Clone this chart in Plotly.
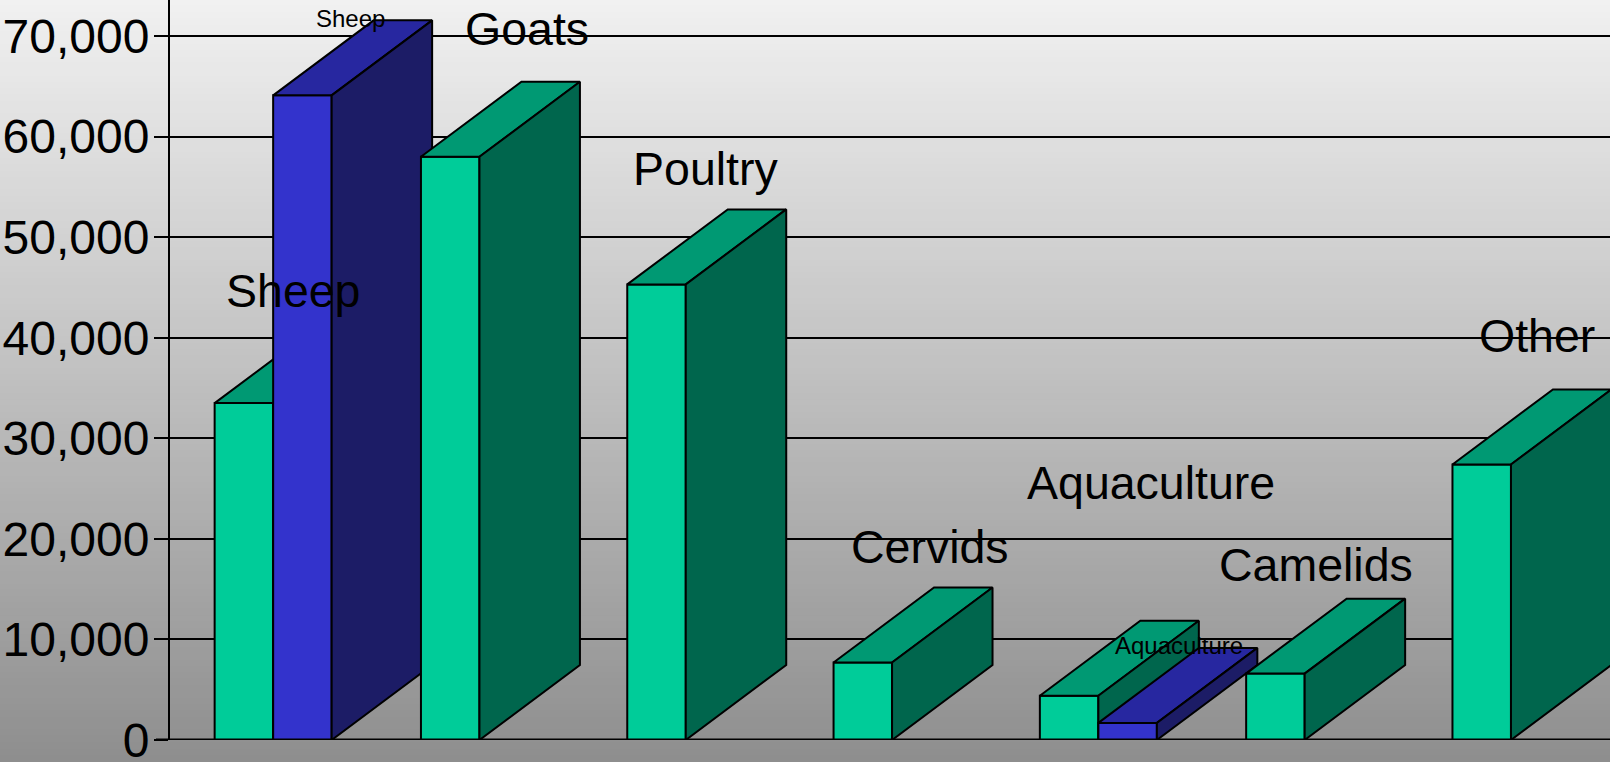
import plotly.graph_objects as go

# ---------------- data ----------------
categories = ["Sheep", "Goats", "Poultry", "Cervids", "Aquaculture", "Camelids", "Other"]
green_values = [33500, 58000, 45300, 7700, 4400, 6600, 27400]
blue_values = [64100, 0, 0, 0, 1700, 0, 0]
green_labels = ["Sheep", "Goats", "Poultry", "Cervids", "Aquaculture", "Camelids", "Other"]
blue_labels = ["Sheep", "", "", "", "Aquaculture", "", ""]
y_tick_values = [0, 10000, 20000, 30000, 40000, 50000, 60000, 70000]
y_tick_labels = ["0", "10,000", "20,000", "30,000", "40,000", "50,000", "60,000", "70,000"]

# ---------------- style / geometry ----------------
BAR_W = 0.2836          # bar width in category units
DEPTH_X = 0.487         # 3D depth offset (category units)
DEPTH_Y = 7457          # 3D depth offset (value units)
GREEN = dict(front="#00CC99", top="#009973", side="#00664D")
BLUE = dict(front="#3333CC", top="#2727A0", side="#1C1C66")
FONT = "Liberation Sans, Arial, sans-serif"
green_label_shift = [(-1, 37), (27, 53), (-1, 40), (17, 41), (32, 138), (-10, 34), (5, 53)]
blue_label_shift = [(-2, 2), (0, 0), (0, 0), (0, 0), (1, 2), (0, 0), (0, 0)]

fig = go.Figure()


def poly(xs, ys, color):
    fig.add_trace(go.Scatter(
        x=xs + [xs[0]], y=ys + [ys[0]], mode="lines", fill="toself",
        fillcolor=color, line=dict(color="black", width=2),
        hoverinfo="skip", showlegend=False))


def add_box(x0, v, colors):
    x1 = x0 + BAR_W
    poly([x0, x1, x1, x0], [0, 0, v, v], colors["front"])
    poly([x0, x1, x1 + DEPTH_X, x0 + DEPTH_X], [v, v, v + DEPTH_Y, v + DEPTH_Y], colors["top"])
    poly([x1, x1 + DEPTH_X, x1 + DEPTH_X, x1], [0, DEPTH_Y, v + DEPTH_Y, v], colors["side"])


annotations = []
for i, cat in enumerate(categories):
    gv = green_values[i]
    bv = blue_values[i]
    add_box(i - BAR_W, gv, GREEN)
    dxs, dys = green_label_shift[i]
    annotations.append(dict(
        x=i - BAR_W / 2 + DEPTH_X / 2, y=gv + DEPTH_Y, xref="x", yref="y",
        text=green_labels[i], showarrow=False, xshift=dxs, yshift=dys,
        font=dict(family=FONT, size=46.5, color="black")))
    if bv > 0:
        add_box(i, bv, BLUE)
        dxs, dys = blue_label_shift[i]
        annotations.append(dict(
            x=i + BAR_W / 2 + DEPTH_X / 2, y=bv + DEPTH_Y, xref="x", yref="y",
            text=blue_labels[i], showarrow=False, xshift=dxs, yshift=dys,
            font=dict(family=FONT, size=24, color="black")))

# gradient background built from thin strips
shapes = []
N = 120
W, H = 1610, 762
L, R, T, B = 170, 0, 0, 22
pw, ph = W - L - R, H - T - B
for k in range(N):
    ytop = k * H / N
    ybot = (k + 1) * H / N
    frac = (k + 0.5) / N
    g = int(round(241 - frac * (241 - 142)))
    shapes.append(dict(
        type="rect", xref="paper", yref="paper", layer="below",
        x0=-L / pw - 0.01, x1=1.01,
        y0=(H - B - ybot) / ph, y1=(H - B - ytop) / ph + 0.001,
        line=dict(width=0), fillcolor=f"rgb({g},{g},{g})"))
# baseline
shapes.append(dict(type="line", xref="paper", yref="y", x0=-14 / pw, x1=1, y0=0, y1=0,
                   line=dict(color="black", width=3), layer="above"))

fig.update_layout(
    width=W, height=H,
    margin=dict(l=L, r=R, t=T, b=B, pad=0, autoexpand=False),
    paper_bgcolor="#8E8E8E",
    plot_bgcolor="rgba(0,0,0,0)",
    shapes=shapes,
    annotations=annotations,
    showlegend=False,
    xaxis=dict(range=[-0.5, 6.48], showgrid=False, zeroline=False, showticklabels=False,
               showline=False, ticks="", fixedrange=True, automargin=False),
    yaxis=dict(range=[0, 73580], tickvals=y_tick_values, ticktext=y_tick_labels,
               showgrid=True, gridcolor="black", gridwidth=2, zeroline=False,
               showline=True, linecolor="black", linewidth=2,
               ticks="outside", ticklen=14, tickwidth=2, tickcolor="black",
               ticklabeloverflow="allow", ticklabelstandoff=-5, automargin=False,
               tickfont=dict(family=FONT, size=48, color="black"), fixedrange=True),
)

fig.write_html(
    "out.html",
    config={"displayModeBar": False},
    post_script="document.body.style.margin='0';document.body.style.overflow='hidden';",
)
